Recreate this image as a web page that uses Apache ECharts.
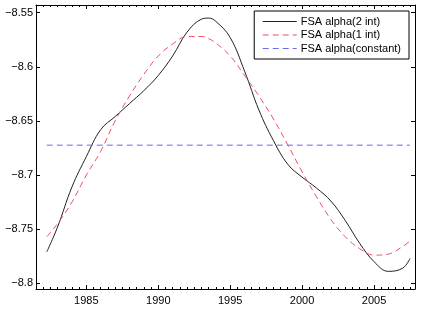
<!DOCTYPE html>
<html>
<head>
<meta charset="utf-8">
<script src="https://cdn.jsdelivr.net/npm/echarts@6/dist/echarts.min.js"></script>
<style>
  html, body { margin: 0; padding: 0; background: #fff; }
  #chart { width: 421px; height: 314px; }
</style>
</head>
<body>
<div id="chart"></div>
<script>
// years of the smoothed estimates
var years = [1982.25, 1983, 1984, 1985, 1986, 1987, 1988, 1989, 1990, 1991, 1992, 1993, 1993.5, 1994,
             1995, 1996, 1997, 1998, 1999, 2000, 2001, 2002, 2003, 2004, 2005, 2006, 2007, 2007.5];
// FSA alpha, two intercepts
var alpha2 = [-8.771, -8.748, -8.711, -8.683, -8.658, -8.646, -8.634, -8.622, -8.608, -8.590, -8.568, -8.556, -8.555, -8.558,
              -8.573, -8.604, -8.640, -8.668, -8.690, -8.702, -8.712, -8.724, -8.742, -8.763, -8.780, -8.789, -8.786, -8.777];
// FSA alpha, one intercept
var alpha1 = [-8.757, -8.745, -8.725, -8.700, -8.678, -8.650, -8.627, -8.607, -8.590, -8.579, -8.572, -8.572, -8.574, -8.578,
              -8.590, -8.608, -8.627, -8.648, -8.672, -8.697, -8.720, -8.741, -8.757, -8.768, -8.774, -8.773, -8.766, -8.761];
// FSA alpha, constant
var constYears = [1982.25, 2007.5];
var alphaConst = [-8.6724, -8.6724];

var xMajor = [1985, 1990, 1995, 2000, 2005];
var yMajor = [-8.8, -8.75, -8.7, -8.65, -8.6, -8.55];

var xMinor = [];
for (var t = 1982; t <= 2007.5; t += 0.5) {
    if (xMajor.indexOf(t) < 0) xMinor.push(t);
}

function pairs(xs, ys) {
    return xs.map(function (x, i) { return [x, ys[i]]; });
}

var font = 'Liberation Sans, Arial, Helvetica, sans-serif';
var xMin = 1981.5, xMax = 2007.85;
var yMin = -8.8053, yMax = -8.5429;

function xAx(pos, values, len, line, label) {
    return {
        type: 'value', position: pos, min: xMin, max: xMax,
        axisLine: { show: line, onZero: false, lineStyle: { color: '#000', width: 1 } },
        axisTick: { show: true, inside: true, length: len, customValues: values, lineStyle: { color: '#000', width: 1 } },
        axisLabel: {
            show: label, customValues: values, margin: 6, color: '#000', fontSize: 11, fontFamily: font,
            formatter: function (v) { return String(v); }
        },
        splitLine: { show: false }
    };
}
function yAx(pos, label) {
    return {
        type: 'value', position: pos, min: yMin, max: yMax,
        axisLine: { show: true, onZero: false, lineStyle: { color: '#000', width: 1 } },
        axisTick: { show: true, inside: true, length: 4, customValues: yMajor, lineStyle: { color: '#000', width: 1 } },
        axisLabel: {
            show: label, customValues: yMajor, margin: 3, color: '#000', fontSize: 11, fontFamily: font,
            formatter: function (v) { return String(Math.round(v * 100) / 100).replace('-', '\u2212'); }
        },
        splitLine: { show: false }
    };
}

var chart = echarts.init(document.getElementById('chart'));
chart.setOption({
    animation: false,
    backgroundColor: '#fff',
    grid: { left: 36, top: 5, right: 6, bottom: 25 },
    legend: {
        orient: 'vertical', right: 12, top: 11,
        padding: [5, 8, 5, 8], itemGap: 2.5, itemWidth: 34, itemHeight: 11,
        borderColor: '#000', borderWidth: 1, backgroundColor: '#fff',
        itemStyle: { opacity: 0 },
        lineStyle: { width: 1 },
        textStyle: { color: '#000', fontSize: 11, fontFamily: font, padding: [0, 0, 0, -1] },
        data: ['FSA alpha(2 int)', 'FSA alpha(1 int)', 'FSA alpha(constant)']
    },
    xAxis: [
        xAx('bottom', xMajor, 4, true, true),
        xAx('bottom', xMinor, 2, false, false),
        xAx('top', xMajor, 4, true, false),
        xAx('top', xMinor, 2, false, false)
    ],
    yAxis: [yAx('left', true), yAx('right', false)],
    series: [
        {
            name: 'FSA alpha(2 int)', type: 'line', smooth: 0.4, symbol: 'none',
            data: pairs(years, alpha2),
            itemStyle: { color: '#222' },
            lineStyle: { color: '#222', width: 1 }
        },
        {
            name: 'FSA alpha(1 int)', type: 'line', smooth: 0.4, symbol: 'none',
            data: pairs(years, alpha1),
            itemStyle: { color: '#ec5065' },
            lineStyle: { color: '#ec5065', width: 1, type: [6, 4] }
        },
        {
            name: 'FSA alpha(constant)', type: 'line', symbol: 'none',
            data: pairs(constYears, alphaConst),
            itemStyle: { color: '#6b6bf0' },
            lineStyle: { color: '#6b6bf0', width: 1, type: [6, 4] }
        }
    ]
});
</script>
</body>
</html>
